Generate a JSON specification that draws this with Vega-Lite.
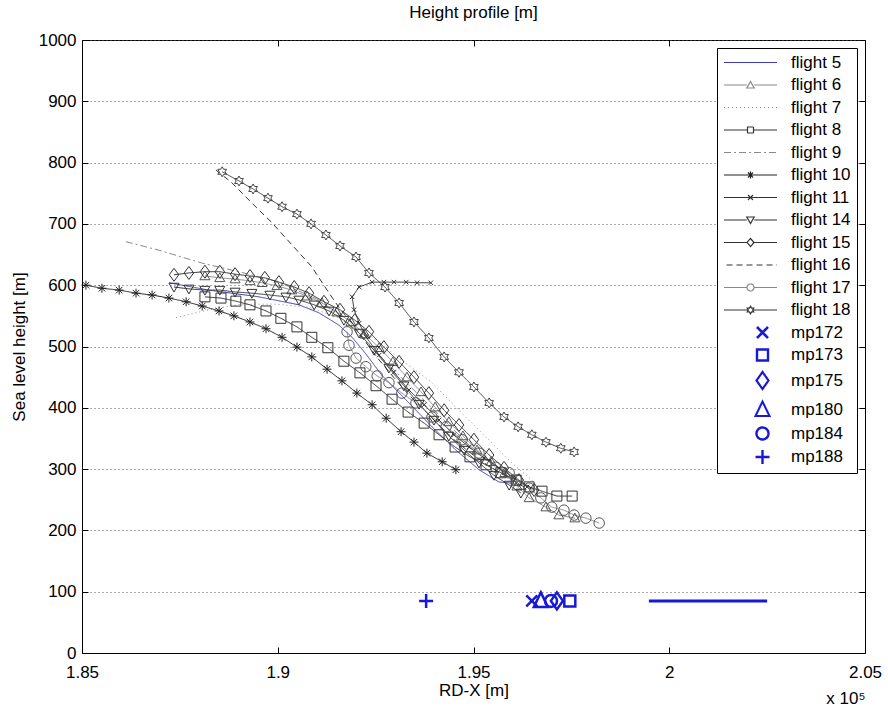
{
  "$schema": "https://vega.github.io/schema/vega-lite/v6.json",
  "width": 783,
  "height": 613,
  "padding": {"left": 10, "top": 4, "right": 0, "bottom": 0},
  "background": "white",
  "config": {
    "font": "Liberation Sans",
    "view": {"stroke": "#000", "strokeWidth": 1},
    "axis": {"labelFont": "Liberation Sans", "labelFontSize": 17, "labelColor": "#000", "titleFont": "Liberation Sans", "titleFontSize": 17, "titleFontWeight": "normal", "titleColor": "#000", "domainColor": "#000", "tickColor": "#000", "tickSize": -6},
    "legend": {"title": null, "orient": "top-right", "offset": 8, "padding": 6, "strokeColor": "#000", "fillColor": "#fff", "labelFont": "Liberation Sans", "labelFontSize": 17, "labelColor": "#000", "symbolSize": 100, "symbolStrokeWidth": 1.2, "symbolOffset": 19, "labelOffset": 32, "rowPadding": 4.5, "symbolOpacity": 1, "labelLimit": 200},
    "title": {"font": "Liberation Sans", "fontSize": 17, "fontWeight": "normal", "color": "#000"}
  },
  "title": {"text": "Height profile [m]", "offset": 9},
  "datasets": {
    "fl": [
      {"s":"flight 5","o":0,"x":1.8722,"y":604},{"s":"flight 5","o":1,"x":1.8824,"y":592},{"s":"flight 5","o":2,"x":1.8952,"y":581},{"s":"flight 5","o":3,"x":1.9054,"y":568},{"s":"flight 5","o":4,"x":1.9105,"y":555},{"s":"flight 5","o":5,"x":1.9156,"y":535},{"s":"flight 5","o":6,"x":1.919,"y":515},{"s":"flight 5","o":7,"x":1.9225,"y":488},{"s":"flight 5","o":8,"x":1.9266,"y":453},{"s":"flight 5","o":9,"x":1.9335,"y":408},{"s":"flight 5","o":10,"x":1.9394,"y":369},{"s":"flight 5","o":11,"x":1.9455,"y":331},{"s":"flight 5","o":12,"x":1.9514,"y":299},{"s":"flight 5","o":13,"x":1.9565,"y":279},{"s":"flight 5","o":14,"x":1.9598,"y":277},
      {"s":"flight 6","o":0,"x":1.8814,"y":615},{"s":"flight 6","o":1,"x":1.8852,"y":612},{"s":"flight 6","o":2,"x":1.8891,"y":610},{"s":"flight 6","o":3,"x":1.8929,"y":607},{"s":"flight 6","o":4,"x":1.896,"y":604},{"s":"flight 6","o":5,"x":1.8998,"y":599},{"s":"flight 6","o":6,"x":1.9036,"y":592},{"s":"flight 6","o":7,"x":1.9075,"y":582},{"s":"flight 6","o":8,"x":1.9113,"y":571},{"s":"flight 6","o":9,"x":1.9151,"y":556},{"s":"flight 6","o":10,"x":1.9187,"y":540},{"s":"flight 6","o":11,"x":1.9223,"y":520},{"s":"flight 6","o":12,"x":1.9259,"y":498},{"s":"flight 6","o":13,"x":1.9294,"y":475},{"s":"flight 6","o":14,"x":1.933,"y":450},{"s":"flight 6","o":15,"x":1.9366,"y":426},{"s":"flight 6","o":16,"x":1.9402,"y":401},{"s":"flight 6","o":17,"x":1.9437,"y":377},{"s":"flight 6","o":18,"x":1.9473,"y":354},{"s":"flight 6","o":19,"x":1.9509,"y":331},{"s":"flight 6","o":20,"x":1.9545,"y":312},{"s":"flight 6","o":21,"x":1.958,"y":294},{"s":"flight 6","o":22,"x":1.9611,"y":272},{"s":"flight 6","o":23,"x":1.9642,"y":253},{"s":"flight 6","o":24,"x":1.9685,"y":238},{"s":"flight 6","o":25,"x":1.9718,"y":225},{"s":"flight 6","o":26,"x":1.9759,"y":220},
      {"s":"flight 7","o":0,"x":1.874,"y":547},{"s":"flight 7","o":1,"x":1.8824,"y":560},{"s":"flight 7","o":2,"x":1.8909,"y":569},{"s":"flight 7","o":3,"x":1.8996,"y":569},{"s":"flight 7","o":4,"x":1.908,"y":564},{"s":"flight 7","o":5,"x":1.9156,"y":547},{"s":"flight 7","o":6,"x":1.9233,"y":519},{"s":"flight 7","o":7,"x":1.931,"y":481},{"s":"flight 7","o":8,"x":1.9394,"y":441},{"s":"flight 7","o":9,"x":1.9455,"y":401},{"s":"flight 7","o":10,"x":1.9532,"y":352},{"s":"flight 7","o":11,"x":1.9598,"y":310},{"s":"flight 7","o":12,"x":1.9649,"y":282},{"s":"flight 7","o":13,"x":1.9667,"y":266},
      {"s":"flight 8","o":0,"x":1.8814,"y":581},{"s":"flight 8","o":1,"x":1.8855,"y":579},{"s":"flight 8","o":2,"x":1.8893,"y":574},{"s":"flight 8","o":3,"x":1.8929,"y":568},{"s":"flight 8","o":4,"x":1.897,"y":558},{"s":"flight 8","o":5,"x":1.9008,"y":546},{"s":"flight 8","o":6,"x":1.9049,"y":532},{"s":"flight 8","o":7,"x":1.9087,"y":515},{"s":"flight 8","o":8,"x":1.9128,"y":498},{"s":"flight 8","o":9,"x":1.9169,"y":476},{"s":"flight 8","o":10,"x":1.921,"y":457},{"s":"flight 8","o":11,"x":1.9251,"y":436},{"s":"flight 8","o":12,"x":1.9292,"y":414},{"s":"flight 8","o":13,"x":1.9333,"y":393},{"s":"flight 8","o":14,"x":1.9374,"y":375},{"s":"flight 8","o":15,"x":1.9412,"y":356},{"s":"flight 8","o":16,"x":1.9453,"y":336},{"s":"flight 8","o":17,"x":1.9491,"y":320},{"s":"flight 8","o":18,"x":1.9532,"y":307},{"s":"flight 8","o":19,"x":1.957,"y":294},{"s":"flight 8","o":20,"x":1.9609,"y":282},{"s":"flight 8","o":21,"x":1.9642,"y":271},{"s":"flight 8","o":22,"x":1.9675,"y":264},{"s":"flight 8","o":23,"x":1.9713,"y":256},{"s":"flight 8","o":24,"x":1.9752,"y":256},
      {"s":"flight 9","o":0,"x":1.8612,"y":671},{"s":"flight 9","o":1,"x":1.8697,"y":657},{"s":"flight 9","o":2,"x":1.8807,"y":636},{"s":"flight 9","o":3,"x":1.8901,"y":622},{"s":"flight 9","o":4,"x":1.9003,"y":605},{"s":"flight 9","o":5,"x":1.9105,"y":576},{"s":"flight 9","o":6,"x":1.9182,"y":535},{"s":"flight 9","o":7,"x":1.9259,"y":486},{"s":"flight 9","o":8,"x":1.9335,"y":437},{"s":"flight 9","o":9,"x":1.9412,"y":388},{"s":"flight 9","o":10,"x":1.9489,"y":339},{"s":"flight 9","o":11,"x":1.9565,"y":302},{"s":"flight 9","o":12,"x":1.9629,"y":274},
      {"s":"flight 10","o":0,"x":1.851,"y":600},{"s":"flight 10","o":1,"x":1.8551,"y":595},{"s":"flight 10","o":2,"x":1.8595,"y":592},{"s":"flight 10","o":3,"x":1.8638,"y":587},{"s":"flight 10","o":4,"x":1.8679,"y":584},{"s":"flight 10","o":5,"x":1.8722,"y":579},{"s":"flight 10","o":6,"x":1.8766,"y":573},{"s":"flight 10","o":7,"x":1.8807,"y":566},{"s":"flight 10","o":8,"x":1.885,"y":558},{"s":"flight 10","o":9,"x":1.8888,"y":550},{"s":"flight 10","o":10,"x":1.8929,"y":540},{"s":"flight 10","o":11,"x":1.897,"y":529},{"s":"flight 10","o":12,"x":1.9011,"y":515},{"s":"flight 10","o":13,"x":1.9049,"y":499},{"s":"flight 10","o":14,"x":1.9087,"y":483},{"s":"flight 10","o":15,"x":1.9126,"y":463},{"s":"flight 10","o":16,"x":1.9164,"y":444},{"s":"flight 10","o":17,"x":1.9202,"y":424},{"s":"flight 10","o":18,"x":1.9241,"y":405},{"s":"flight 10","o":19,"x":1.9277,"y":383},{"s":"flight 10","o":20,"x":1.9315,"y":361},{"s":"flight 10","o":21,"x":1.9348,"y":344},{"s":"flight 10","o":22,"x":1.9381,"y":326},{"s":"flight 10","o":23,"x":1.942,"y":312},{"s":"flight 10","o":24,"x":1.9455,"y":299},
      {"s":"flight 11","o":0,"x":1.9391,"y":604},{"s":"flight 11","o":1,"x":1.9356,"y":604},{"s":"flight 11","o":2,"x":1.9328,"y":605},{"s":"flight 11","o":3,"x":1.9297,"y":605},{"s":"flight 11","o":4,"x":1.9271,"y":605},{"s":"flight 11","o":5,"x":1.9241,"y":605},{"s":"flight 11","o":6,"x":1.9208,"y":597},{"s":"flight 11","o":7,"x":1.919,"y":581},{"s":"flight 11","o":8,"x":1.9195,"y":560},{"s":"flight 11","o":9,"x":1.9208,"y":538},{"s":"flight 11","o":10,"x":1.9225,"y":516},{"s":"flight 11","o":11,"x":1.9259,"y":486},{"s":"flight 11","o":12,"x":1.9297,"y":458},{"s":"flight 11","o":13,"x":1.9335,"y":429},{"s":"flight 11","o":14,"x":1.9374,"y":405},{"s":"flight 11","o":15,"x":1.9412,"y":380},{"s":"flight 11","o":16,"x":1.945,"y":356},{"s":"flight 11","o":17,"x":1.9489,"y":336},{"s":"flight 11","o":18,"x":1.9527,"y":318},{"s":"flight 11","o":19,"x":1.9565,"y":302},{"s":"flight 11","o":20,"x":1.9603,"y":286},{"s":"flight 11","o":21,"x":1.9637,"y":271},
      {"s":"flight 14","o":0,"x":1.8735,"y":597},{"s":"flight 14","o":1,"x":1.8773,"y":594},{"s":"flight 14","o":2,"x":1.8814,"y":592},{"s":"flight 14","o":3,"x":1.8852,"y":592},{"s":"flight 14","o":4,"x":1.8891,"y":589},{"s":"flight 14","o":5,"x":1.8934,"y":587},{"s":"flight 14","o":6,"x":1.898,"y":584},{"s":"flight 14","o":7,"x":1.9021,"y":581},{"s":"flight 14","o":8,"x":1.9054,"y":576},{"s":"flight 14","o":9,"x":1.9093,"y":568},{"s":"flight 14","o":10,"x":1.9131,"y":558},{"s":"flight 14","o":11,"x":1.9169,"y":543},{"s":"flight 14","o":12,"x":1.9208,"y":522},{"s":"flight 14","o":13,"x":1.9246,"y":494},{"s":"flight 14","o":14,"x":1.9284,"y":465},{"s":"flight 14","o":15,"x":1.9322,"y":436},{"s":"flight 14","o":16,"x":1.9361,"y":406},{"s":"flight 14","o":17,"x":1.9399,"y":380},{"s":"flight 14","o":18,"x":1.9437,"y":354},{"s":"flight 14","o":19,"x":1.9476,"y":331},{"s":"flight 14","o":20,"x":1.9514,"y":310},{"s":"flight 14","o":21,"x":1.9552,"y":290},{"s":"flight 14","o":22,"x":1.9591,"y":274},{"s":"flight 14","o":23,"x":1.9621,"y":261},
      {"s":"flight 15","o":0,"x":1.8735,"y":617},{"s":"flight 15","o":1,"x":1.8773,"y":620},{"s":"flight 15","o":2,"x":1.8814,"y":622},{"s":"flight 15","o":3,"x":1.8852,"y":622},{"s":"flight 15","o":4,"x":1.8891,"y":618},{"s":"flight 15","o":5,"x":1.8929,"y":615},{"s":"flight 15","o":6,"x":1.8967,"y":612},{"s":"flight 15","o":7,"x":1.9003,"y":605},{"s":"flight 15","o":8,"x":1.9042,"y":597},{"s":"flight 15","o":9,"x":1.908,"y":587},{"s":"flight 15","o":10,"x":1.9118,"y":573},{"s":"flight 15","o":11,"x":1.9159,"y":560},{"s":"flight 15","o":12,"x":1.9197,"y":543},{"s":"flight 15","o":13,"x":1.9233,"y":524},{"s":"flight 15","o":14,"x":1.9271,"y":499},{"s":"flight 15","o":15,"x":1.931,"y":475},{"s":"flight 15","o":16,"x":1.9348,"y":450},{"s":"flight 15","o":17,"x":1.9386,"y":424},{"s":"flight 15","o":18,"x":1.9425,"y":396},{"s":"flight 15","o":19,"x":1.9463,"y":372},{"s":"flight 15","o":20,"x":1.9501,"y":348},{"s":"flight 15","o":21,"x":1.954,"y":323},{"s":"flight 15","o":22,"x":1.9578,"y":302},{"s":"flight 15","o":23,"x":1.9616,"y":282},{"s":"flight 15","o":24,"x":1.9655,"y":266},
      {"s":"flight 16","o":0,"x":1.8842,"y":788},{"s":"flight 16","o":1,"x":1.8883,"y":767},{"s":"flight 16","o":2,"x":1.8934,"y":734},{"s":"flight 16","o":3,"x":1.8985,"y":702},{"s":"flight 16","o":4,"x":1.9036,"y":666},{"s":"flight 16","o":5,"x":1.9087,"y":630},{"s":"flight 16","o":6,"x":1.9126,"y":592},{"s":"flight 16","o":7,"x":1.9156,"y":564},{"s":"flight 16","o":8,"x":1.9187,"y":540},{"s":"flight 16","o":9,"x":1.922,"y":511},{"s":"flight 16","o":10,"x":1.9259,"y":478},{"s":"flight 16","o":11,"x":1.9297,"y":449},{"s":"flight 16","o":12,"x":1.9335,"y":421},{"s":"flight 16","o":13,"x":1.9374,"y":396},{"s":"flight 16","o":14,"x":1.9412,"y":372},{"s":"flight 16","o":15,"x":1.945,"y":348},{"s":"flight 16","o":16,"x":1.9489,"y":328},{"s":"flight 16","o":17,"x":1.9527,"y":310},{"s":"flight 16","o":18,"x":1.9565,"y":295},{"s":"flight 16","o":19,"x":1.9603,"y":281},{"s":"flight 16","o":20,"x":1.9629,"y":271},
      {"s":"flight 17","o":0,"x":1.9177,"y":524},{"s":"flight 17","o":1,"x":1.9182,"y":502},{"s":"flight 17","o":2,"x":1.92,"y":481},{"s":"flight 17","o":3,"x":1.9225,"y":467},{"s":"flight 17","o":4,"x":1.9254,"y":452},{"s":"flight 17","o":5,"x":1.9284,"y":441},{"s":"flight 17","o":6,"x":1.9317,"y":424},{"s":"flight 17","o":7,"x":1.9353,"y":408},{"s":"flight 17","o":8,"x":1.9394,"y":385},{"s":"flight 17","o":9,"x":1.943,"y":369},{"s":"flight 17","o":10,"x":1.9471,"y":348},{"s":"flight 17","o":11,"x":1.9514,"y":326},{"s":"flight 17","o":12,"x":1.9557,"y":303},{"s":"flight 17","o":13,"x":1.9591,"y":294},{"s":"flight 17","o":14,"x":1.9611,"y":282},{"s":"flight 17","o":15,"x":1.9642,"y":269},{"s":"flight 17","o":16,"x":1.9672,"y":253},{"s":"flight 17","o":17,"x":1.97,"y":238},{"s":"flight 17","o":18,"x":1.9731,"y":233},{"s":"flight 17","o":19,"x":1.9757,"y":225},{"s":"flight 17","o":20,"x":1.9787,"y":220},{"s":"flight 17","o":21,"x":1.9821,"y":212},
      {"s":"flight 18","o":0,"x":1.8858,"y":785},{"s":"flight 18","o":1,"x":1.8901,"y":770},{"s":"flight 18","o":2,"x":1.8937,"y":757},{"s":"flight 18","o":3,"x":1.8975,"y":742},{"s":"flight 18","o":4,"x":1.9011,"y":728},{"s":"flight 18","o":5,"x":1.9049,"y":716},{"s":"flight 18","o":6,"x":1.9085,"y":700},{"s":"flight 18","o":7,"x":1.9123,"y":682},{"s":"flight 18","o":8,"x":1.9159,"y":664},{"s":"flight 18","o":9,"x":1.92,"y":646},{"s":"flight 18","o":10,"x":1.9233,"y":620},{"s":"flight 18","o":11,"x":1.9274,"y":597},{"s":"flight 18","o":12,"x":1.931,"y":571},{"s":"flight 18","o":13,"x":1.9348,"y":540},{"s":"flight 18","o":14,"x":1.9386,"y":514},{"s":"flight 18","o":15,"x":1.9425,"y":483},{"s":"flight 18","o":16,"x":1.9463,"y":458},{"s":"flight 18","o":17,"x":1.9501,"y":434},{"s":"flight 18","o":18,"x":1.954,"y":408},{"s":"flight 18","o":19,"x":1.9578,"y":385},{"s":"flight 18","o":20,"x":1.9614,"y":369},{"s":"flight 18","o":21,"x":1.9649,"y":356},{"s":"flight 18","o":22,"x":1.9685,"y":344},{"s":"flight 18","o":23,"x":1.9723,"y":334},{"s":"flight 18","o":24,"x":1.9757,"y":328}
    ],
    "mp": [
      {"s":"mp172","x":1.9649,"y":85},{"s":"mp173","x":1.9746,"y":85},{"s":"mp175","x":1.9713,"y":85},{"s":"mp180","x":1.9672,"y":85},{"s":"mp184","x":1.9698,"y":85},{"s":"mp188","x":1.9379,"y":85}
    ],
    "bar": [{"x":1.9948,"x2":2.025,"y":85}]
  },
  "layer": [
    {
      "data": {"name": "fl"},
      "mark": {"type": "line", "strokeWidth": 1},
      "encoding": {
        "x": {"field": "x", "type": "quantitative", "scale": {"domain": [1.85, 2.05], "nice": false, "zero": false},
              "axis": {"orient": "bottom", "title": "RD-X [m]", "values": [1.85, 1.9, 1.95, 2, 2.05], "format": "~g", "labelFlush": false, "grid": false, "labelPadding": 17, "titlePadding": 2}},
        "y": {"field": "y", "type": "quantitative", "scale": {"domain": [0, 1000], "nice": false},
              "axis": {"orient": "left", "title": "Sea level height [m]", "values": [0,100,200,300,400,500,600,700,800,900,1000], "format": "d", "grid": true, "gridDash": [1,3], "gridColor": "#555", "gridOpacity": 1, "labelPadding": 12, "titlePadding": 10}},
        "color": {"field": "s", "type": "nominal", "legend": null,
                  "scale": {"domain": ["flight 5","flight 6","flight 7","flight 8","flight 9","flight 10","flight 11","flight 14","flight 15","flight 16","flight 17","flight 18"],
                            "range": ["#3c3cb4","#8a8a8a","#8a8a8a","#333333","#8a8a8a","#222222","#333333","#333333","#333333","#333333","#8a8a8a","#444444"]}},
        "strokeDash": {"field": "s", "type": "nominal", "legend": null,
                  "scale": {"domain": ["flight 5","flight 6","flight 7","flight 8","flight 9","flight 10","flight 11","flight 14","flight 15","flight 16","flight 17","flight 18"],
                            "range": [[1,0],[1,0],[1,3],[1,0],[7,3,2,3],[1,0],[1,0],[1,0],[1,0],[6,4],[1,0],[1,0]]}},
        "order": {"field": "o", "type": "quantitative"}
      }
    },
    {
      "data": {"name": "fl"},
      "transform": [{"filter": {"field": "s", "oneOf": ["flight 6","flight 8","flight 10","flight 11","flight 14","flight 15","flight 17","flight 18"]}}],
      "mark": {"type": "point", "filled": false, "size": 100, "strokeWidth": 1, "opacity": 1},
      "encoding": {
        "x": {"field": "x", "type": "quantitative", "axis": null},
        "y": {"field": "y", "type": "quantitative", "axis": null},
        "shape": {"field": "s", "type": "nominal", "legend": null,
                  "scale": {"domain": ["flight 6","flight 8","flight 10","flight 11","flight 14","flight 15","flight 17","flight 18"],
                            "range": ["M0,-1L1,0.75L-1,0.75Z","M-1,-1H1V1H-1Z","M0,-0.9V0.9M-0.9,0H0.9M-0.65,-0.65L0.65,0.65M-0.65,0.65L0.65,-0.65","M-0.45,-0.45L0.45,0.45M-0.45,0.45L0.45,-0.45","M0,1L1,-0.75L-1,-0.75Z","M0,-1.3L0.95,0L0,1.3L-0.95,0Z","M1.05,0A1.05,1.05,0,1,1,-1.05,0A1.05,1.05,0,1,1,1.05,0Z","M0,-1L0.29,-0.5L0.87,-0.5L0.58,0L0.87,0.5L0.29,0.5L0,1L-0.29,0.5L-0.87,0.5L-0.58,0L-0.87,-0.5L-0.29,-0.5Z"]}},
        "color": {"field": "s", "type": "nominal", "legend": null,
                  "scale": {"domain": ["flight 6","flight 8","flight 10","flight 11","flight 14","flight 15","flight 17","flight 18"],
                            "range": ["#555555","#333333","#222222","#333333","#333333","#333333","#555555","#444444"]}}
      }
    },
    {
      "data": {"name": "mp"},
      "mark": {"type": "point", "filled": false, "size": 100, "strokeWidth": 2.5, "opacity": 1, "color": "#1818d8"},
      "encoding": {
        "x": {"field": "x", "type": "quantitative",
              "axis": {"orient": "top", "labels": false, "title": null, "grid": false, "domain": false, "values": [1.85, 1.9, 1.95, 2, 2.05]}},
        "y": {"field": "y", "type": "quantitative",
              "axis": {"orient": "right", "labels": false, "title": null, "grid": false, "domain": false, "values": [0,100,200,300,400,500,600,700,800,900,1000]}},
        "shape": {"field": "s", "type": "nominal", "legend": null,
                  "scale": {"domain": ["mp172","mp173","mp175","mp180","mp184","mp188"],
                            "range": ["M-1.1,-1.1L1.1,1.1M-1.1,1.1L1.1,-1.1","M-1.1,-1.1H1.1V1.1H-1.1Z","M0,-1.7L1.2,0L0,1.7L-1.2,0Z","M0,-1.7L1.4,1.2L-1.4,1.2Z","M1.2,0A1.2,1.2,0,1,1,-1.2,0A1.2,1.2,0,1,1,1.2,0Z","M0,-1.4V1.4M-1.4,0H1.4"]}}
      }
    },
    {
      "data": {"name": "bar"},
      "mark": {"type": "rule", "strokeWidth": 3, "color": "#1818d8"},
      "encoding": {
        "x": {"field": "x", "type": "quantitative",
              "axis": {"orient": "bottom", "values": [2.05], "labelExpr": "'x 10⁵'", "ticks": false, "domain": false, "grid": false, "title": null, "offset": 33, "labelPadding": 4, "labelAlign": "right", "labelDx": 4, "labelFlush": false}},
        "x2": {"field": "x2"},
        "y": {"field": "y", "type": "quantitative", "axis": null}
      }
    },
    {
      "data": {"name": "mp"},
      "mark": {"type": "point", "filled": false, "size": 0},
      "encoding": {
        "x": {"field": "x", "type": "quantitative", "axis": null},
        "y": {"field": "y", "type": "quantitative", "axis": null},
        "shape": {"field": "s", "type": "nominal",
                  "scale": {"domain": ["flight 5","flight 6","flight 7","flight 8","flight 9","flight 10","flight 11","flight 14","flight 15","flight 16","flight 17","flight 18","mp172","mp173","mp175","mp180","mp184","mp188"],
                            "range": [
                              "M-5.3,0H5.3",
                              "M-5.3,0H-0.75M0.75,0H5.3M0,-0.7L0.75,0.6L-0.75,0.6Z",
                              "M-5.3,0H5.3",
                              "M-5.3,0H-0.6M0.6,0H5.3M-0.6,-0.6H0.6V0.6H-0.6Z",
                              "M-5.3,0H5.3",
                              "M-5.3,0H5.3M0,-0.7V0.7M-0.5,-0.5L0.5,0.5M-0.5,0.5L0.5,-0.5",
                              "M-5.3,0H5.3M-0.5,-0.5L0.5,0.5M-0.5,0.5L0.5,-0.5",
                              "M-5.3,0H-0.75M0.75,0H5.3M0,0.7L0.75,-0.6L-0.75,-0.6Z",
                              "M-5.3,0H-0.7M0.7,0H5.3M0,-0.8L0.7,0L0,0.8L-0.7,0Z",
                              "M-4.8,0H5.3",
                              "M-5.3,0H-0.7M0.7,0H5.3M0.7,0A0.7,0.7,0,1,1,-0.7,0A0.7,0.7,0,1,1,0.7,0Z",
                              "M-5.3,0H-0.45M0.45,0H5.3M0,-0.75L0.22,-0.38L0.65,-0.38L0.43,0L0.65,0.38L0.22,0.38L0,0.75L-0.22,0.38L-0.65,0.38L-0.43,0L-0.65,-0.38L-0.22,-0.38Z",
                              "M1.3,-1.1L3.5,1.1M1.2,-1.0L3.4,1.2M1.4,-1.2L3.6,1.0M1.3,1.1L3.5,-1.1M1.2,1.0L3.4,-1.2M1.4,1.2L3.6,-1.0",
                              "M1.3,-1.1H3.5V1.1H1.3ZM1.18,-1.22H3.62V1.22H1.18ZM1.42,-0.98H3.38V0.98H1.42Z",
                              "M2.4,-1.7L3.6,0L2.4,1.7L1.2,0ZM2.4,-1.87L3.72,0L2.4,1.87L1.08,0ZM2.4,-1.53L3.48,0L2.4,1.53L1.32,0Z",
                              "M2.4,-1.7L3.8,1.2L1.0,1.2ZM2.4,-1.893L3.94,1.297L0.86,1.297ZM2.4,-1.507L3.66,1.103L1.14,1.103Z",
                              "M3.6,0A1.2,1.2,0,1,1,1.2,0A1.2,1.2,0,1,1,3.6,0ZM3.72,0A1.32,1.32,0,1,1,1.08,0A1.32,1.32,0,1,1,3.72,0ZM3.48,0A1.08,1.08,0,1,1,1.32,0A1.08,1.08,0,1,1,3.48,0Z",
                              "M2.4,-1.4V1.4M2.28,-1.4V1.4M2.52,-1.4V1.4M1.0,0H3.8M1.0,-0.12H3.8M1.0,0.12H3.8"
                            ]}},
        "color": {"field": "s", "type": "nominal",
                  "scale": {"domain": ["flight 5","flight 6","flight 7","flight 8","flight 9","flight 10","flight 11","flight 14","flight 15","flight 16","flight 17","flight 18","mp172","mp173","mp175","mp180","mp184","mp188"],
                            "range": ["#3c3cb4","#8a8a8a","#8a8a8a","#333333","#8a8a8a","#222222","#333333","#333333","#333333","#333333","#8a8a8a","#333333","#1818d8","#1818d8","#1818d8","#1818d8","#1818d8","#1818d8"]}},
        "strokeDash": {"field": "s", "type": "nominal",
                  "scale": {"domain": ["flight 5","flight 6","flight 7","flight 8","flight 9","flight 10","flight 11","flight 14","flight 15","flight 16","flight 17","flight 18","mp172","mp173","mp175","mp180","mp184","mp188"],
                            "range": [[1,0],[1,0],[1,3],[1,0],[7,3,2,3],[1,0],[1,0],[1,0],[1,0],[6,4],[1,0],[1,0],[1,0],[1,0],[1,0],[1,0],[1,0],[1,0]]}}
      }
    }
  ],
  "resolve": {
    "scale": {"shape": "independent", "color": "independent", "strokeDash": "independent"},
    "axis": {"x": "independent", "y": "independent"}
  }
}
